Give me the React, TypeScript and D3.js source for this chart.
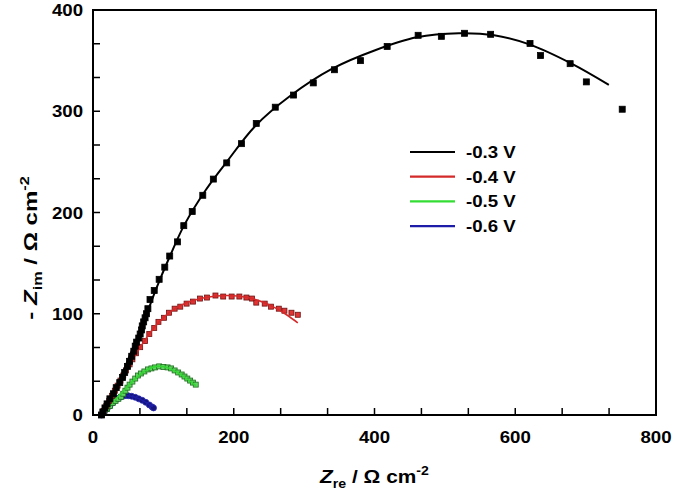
import React from "react";
import * as d3 from "d3";

type Pt = [number, number];

const seriesNames = ["-0.3 V", "-0.4 V", "-0.5 V", "-0.6 V"];

const black03: Pt[] = [
  [12, 0], [14, 3], [17, 7], [20, 11], [24, 16], [29, 21], [33, 27], [38, 32], [42, 37],
  [45, 42], [49, 48], [52, 53], [55, 58], [58, 63], [60, 68], [62, 72], [65, 76], [67, 80],
  [69, 84], [70, 88], [72, 92], [74, 96], [76, 100], [78, 105], [81, 114], [87, 123],
  [94, 134], [102, 146], [109, 157], [120, 171], [129, 187], [141, 201], [156, 217],
  [171, 233], [190, 249], [211, 268], [232, 288], [259, 304], [285, 316], [313, 328],
  [343, 341], [380, 350], [418, 364], [462, 375], [495, 374], [528, 377], [565, 376],
  [621, 367], [636, 355], [678, 347], [701, 329], [752, 302],
];
const fit03: Pt[] = [
  [12, 0], [30, 22], [50, 55], [70, 88], [90, 125], [110, 158], [130, 188], [160, 222],
  [190, 250], [230, 285], [280, 315], [340, 342], [400, 360], [460, 373], [520, 377],
  [570, 375], [620, 366], [680, 347], [733, 326],
];

const red04: Pt[] = [
  [12, 0], [15, 4], [19, 9], [23, 14], [27, 19], [31, 24], [35, 29], [39, 34], [43, 39],
  [47, 44], [52, 50], [56, 55], [61, 61], [67, 67], [74, 73], [80, 80], [87, 86], [93, 92],
  [101, 96], [108, 101], [116, 105], [124, 107], [133, 110], [142, 112], [152, 115],
  [162, 116], [174, 118], [185, 117], [197, 117], [208, 117], [218, 116], [226, 115],
  [232, 111], [244, 110], [253, 107], [264, 105], [272, 103], [282, 101], [291, 99],
];
const fit04: Pt[] = [
  [12, 0], [30, 22], [50, 47], [70, 70], [90, 89], [110, 102], [130, 110], [160, 116],
  [190, 118], [220, 116], [250, 109], [275, 99], [291, 91],
];

const green05: Pt[] = [
  [12, 0], [16, 3], [20, 6], [24, 9], [28, 12], [32, 14], [36, 16], [40, 18], [43, 21],
  [46, 24], [49, 27], [52, 30], [56, 33], [60, 36], [64, 39], [68, 41], [73, 43], [78, 45],
  [83, 46], [88, 47], [94, 48], [100, 47.5], [106, 47], [111, 46], [116, 44], [121, 42],
  [126, 40], [130, 38], [134, 36], [138, 34], [142, 32], [146, 30],
];
const fit05: Pt[] = [
  [12, 0], [30, 14], [45, 25], [60, 36], [75, 44], [90, 48], [105, 47], [120, 42],
  [135, 35], [146, 29],
];

const blue06: Pt[] = [
  [12, 0], [16, 3], [20, 6], [24, 9], [28, 12], [32, 14.5], [36, 16.5], [40, 18], [45, 19],
  [50, 19], [55, 18.5], [60, 17.5], [65, 16], [70, 14.5], [75, 12.5], [80, 10], [84, 8],
  [86, 7],
];
const fit06: Pt[] = [
  [12, 0], [25, 10], [38, 17.5], [50, 19], [62, 17], [74, 13], [85, 8],
];

const xTicks = [0, 200, 400, 600, 800];
const yTicks = [0, 100, 200, 300, 400];

const W = 675;
const H = 495;
const L = 93, R = 656, T = 10, B = 415;
const SX = 1.13; // text in the picture is slightly wide

const x = d3.scaleLinear().domain([0, 800]).range([L, R]);
const y = d3.scaleLinear().domain([0, 400]).range([B, T]);

const font = "'Liberation Sans', Arial, Helvetica, sans-serif";

const series = [
  { name: seriesNames[3], pts: blue06, fit: fit06, line: "#1c1ca8", fill: "#14147a", stroke: "#2a2ab8", shape: "circle", size: 6 },
  { name: seriesNames[2], pts: green05, fit: fit05, line: "#33d633", fill: "#5fd45f", stroke: "#1d6e1d", shape: "square", size: 5 },
  { name: seriesNames[1], pts: red04, fit: fit04, line: "#d42a2a", fill: "#e03333", stroke: "#6e1212", shape: "square", size: 5 },
  { name: seriesNames[0], pts: black03, fit: fit03, line: "#000000", fill: "#000000", stroke: "#000000", shape: "square", size: 6 },
];

const legendColors = ["#000000", "#d42a2a", "#33dd33", "#1c1ca8"];

const line = d3
  .line<Pt>()
  .x((d) => x(d[0]))
  .y((d) => y(d[1]))
  .curve(d3.curveCatmullRom.alpha(0.5));

export default function App() {
  const minorX = d3.range(0, 800.001, 200 / 3);
  const minorY = d3.range(0, 400.001, 100 / 3);
  return (
    <svg
      width={W}
      height={H}
      style={{ position: "absolute", left: 0, top: 0, background: "#fff" }}
      fontFamily={font}
    >
      <rect x={0} y={0} width={W} height={H} fill="#fff" />
      {/* ticks */}
      {minorX.map((v, i) => (
        <line key={"tx" + i} x1={x(v)} x2={x(v)} y1={B} y2={B - 7} stroke="#000" strokeWidth={1.5} />
      ))}
      {minorY.map((v, i) => (
        <line key={"ty" + i} x1={L} x2={L + 7} y1={y(v)} y2={y(v)} stroke="#000" strokeWidth={1.5} />
      ))}
      {xTicks.map((v) => (
        <text
          key={"lx" + v}
          transform={`translate(${x(v)},443) scale(${SX},1)`}
          textAnchor="middle"
          fontSize={16.5}
          fontWeight="bold"
        >
          {v}
        </text>
      ))}
      {yTicks.map((v) => (
        <text
          key={"ly" + v}
          transform={`translate(${L - 10},${y(v) + 6}) scale(${SX},1)`}
          textAnchor="end"
          fontSize={16.5}
          fontWeight="bold"
        >
          {v}
        </text>
      ))}
      {/* data */}
      {series.map((s) => (
        <g key={s.name}>
          {s.pts.map((p, i) =>
            s.shape === "circle" ? (
              <circle key={i} cx={x(p[0])} cy={y(p[1])} r={s.size / 2} fill={s.fill} stroke={s.stroke} strokeWidth={0.8} />
            ) : (
              <rect
                key={i}
                x={x(p[0]) - s.size / 2}
                y={y(p[1]) - s.size / 2}
                width={s.size}
                height={s.size}
                fill={s.fill}
                stroke={s.stroke}
                strokeWidth={0.8}
              />
            )
          )}
          <path d={line(s.fit) || ""} fill="none" stroke={s.line} strokeWidth={s.name === "-0.3 V" ? 2 : 1.6} />
        </g>
      ))}
      {/* frame */}
      <rect x={L} y={T} width={R - L} height={B - T} fill="none" stroke="#000" strokeWidth={2} />
      {/* legend */}
      {seriesNames.map((n, i) => {
        const ly = 152 + i * 24.7;
        return (
          <g key={"lg" + n}>
            <line x1={410} x2={455} y1={ly} y2={ly} stroke={legendColors[i]} strokeWidth={2.2} />
            <text transform={`translate(466,${ly + 6}) scale(${SX},1)`} fontSize={16.5} fontWeight="bold">
              {n}
            </text>
          </g>
        );
      })}
      {/* axis titles */}
      <text transform={`translate(${(L + R) / 2},483) scale(${SX},1)`} textAnchor="middle" fontSize={18.5} fontWeight="bold">
        <tspan fontStyle="italic">Z</tspan>
        <tspan fontSize={12.5} dy={5}>re</tspan>
        <tspan dy={-5}> / Ω cm</tspan>
        <tspan fontSize={12.5} dy={-8}>-2</tspan>
      </text>
      <text transform={`translate(37,248) rotate(-90) scale(1.3,1)`} textAnchor="middle" fontSize={18.5} fontWeight="bold">
        <tspan>- </tspan>
        <tspan fontStyle="italic">Z</tspan>
        <tspan fontSize={12.5} dy={5}>im</tspan>
        <tspan dy={-5}> / Ω cm</tspan>
        <tspan fontSize={12.5} dy={-8}>-2</tspan>
      </text>
    </svg>
  );
}
